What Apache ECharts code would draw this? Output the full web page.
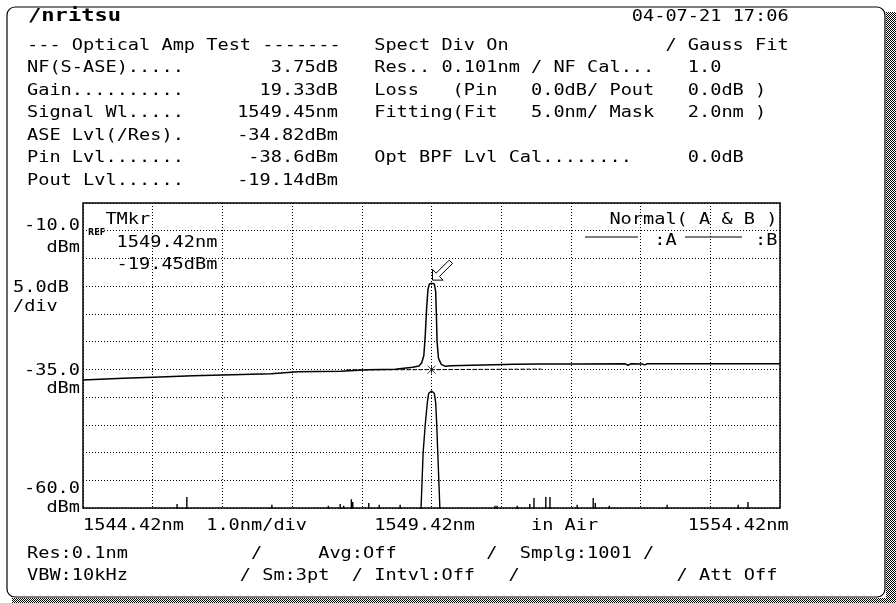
<!DOCTYPE html>
<html>
<head>
<meta charset="utf-8">
<script src="https://cdn.jsdelivr.net/npm/echarts@6.0.0/dist/echarts.min.js"></script>
<style>
  html, body { margin: 0; padding: 0; background: #fff; }
  #chart { width: 896px; height: 603px; }
</style>
</head>
<body>
<div id="chart"></div>
<script>
// trace A : amplifier output (ASE floor + signal peak)
const ampWl = [1544.42, 1545.0, 1545.42, 1546.0, 1546.42, 1547.12, 1547.14, 1547.5, 1548.12, 1548.14,
  1548.5, 1548.9, 1548.92, 1549.15, 1549.24, 1549.28, 1549.31, 1549.33, 1549.35, 1549.37,
  1549.39, 1549.42, 1549.46, 1549.48, 1549.49, 1549.50, 1549.52, 1549.56, 1549.62, 1549.70,
  1550.0, 1550.33, 1550.6, 1551.0, 1551.5, 1552.2, 1552.24, 1552.28, 1552.45, 1552.48,
  1552.51, 1553.0, 1554.42];
const ampDbm = [-36.9, -36.6, -36.4, -36.15, -36.0, -35.8, -35.55, -35.45, -35.35, -35.1,
  -35.05, -35.0, -34.7, -34.6, -34.4, -33.8, -32.5, -29.0, -24.0, -20.5,
  -19.6, -19.45, -19.6, -21.0, -25.0, -30.0, -33.0, -34.1, -34.45, -34.35,
  -34.25, -34.15, -34.1, -34.05, -34.05, -34.0, -34.25, -34.0, -34.05, -34.2,
  -34.0, -34.0, -34.0];

// trace B : amplifier input
const inPeakWl = [1549.25, 1549.27, 1549.285, 1549.30, 1549.33, 1549.36, 1549.38, 1549.42,
  1549.46, 1549.48, 1549.495, 1549.51, 1549.525, 1549.54, 1549.56];
const inPeakDbm = [-62, -60, -55, -50, -45, -41, -39.3, -38.9,
  -39.3, -41, -45, -50, -55, -60, -62];
const spikeWl = [1545.77, 1545.91, 1547.13, 1547.94, 1548.11, 1548.16, 1548.27, 1548.29, 1548.52,
  1548.67, 1548.97, 1550.33, 1550.36, 1550.65, 1550.83, 1550.89, 1551.06, 1551.12, 1551.51,
  1551.74, 1551.77, 1551.97, 1552.80, 1553.82, 1553.96];
const spikeDbm = [-59.3, -58.0, -59.4, -59.6, -59.3, -59.6, -58.4, -58.9, -59.1,
  -59.4, -59.4, -59.6, -59.6, -59.6, -59.3, -58.2, -58.0, -58.0, -59.4,
  -58.2, -59.1, -59.6, -59.4, -59.4, -58.9];
const FLOOR = -62;

// ASE interpolation (dashed) and its point
const fitWl = [1548.2, 1549.42, 1551.0];
const fitDbm = [-35.1, -35.05, -34.95];
const mkrWl = 1549.42, mkrDbm = -19.45;

// screen text sits on a fixed character grid
const PITCH = 11.2;
const col = c => 4.6 + PITCH * c;
const FONT = '16px "DejaVu Sans Mono"';
const SX = PITCH / 9.63;

function txt(x, y, s, align, font, sx) {
  return {
    type: 'text', x: x, y: y, scaleX: sx || SX, silent: true,
    style: {
      text: s, font: font || FONT, fill: '#000',
      textAlign: align || 'left', align: align || 'left',
      textVerticalAlign: 'middle', verticalAlign: 'middle'
    }
  };
}

const ampData = ampWl.map((w, i) => [w, ampDbm[i]]);
let inData = inPeakWl.map((w, i) => [w, inPeakDbm[i]]);
spikeWl.forEach((w, i) => {
  inData.push([w, FLOOR], [w, spikeDbm[i]], [w, FLOOR]);
});
inData.push([1544.42, FLOOR], [1554.42, FLOOR]);
inData.sort((a, b) => a[0] - b[0]);
const fitData = fitWl.map((w, i) => [w, fitDbm[i]]);

// dithered shadow of the screen frame
const dot = document.createElement('canvas');
dot.width = 2; dot.height = 2;
const dctx = dot.getContext('2d');
dctx.fillStyle = '#fff'; dctx.fillRect(0, 0, 2, 2);
dctx.fillStyle = '#000'; dctx.fillRect(0, 0, 1, 1); dctx.fillRect(1, 1, 1, 1);
const dither = { image: dot, repeat: 'repeat' };

const rows = [46, 68, 91, 113, 136, 158, 181];

const texts = [
  txt(28, 17, '/nritsu', 'left', 'bold 17px "DejaVu Sans Mono"', 1.3),
  txt(col(56), 17, '04-07-21 17:06'),

  txt(col(2), rows[0], '--- Optical Amp Test -------'),
  txt(col(2), rows[1], 'NF(S-ASE).....'), txt(338, rows[1], '3.75dB', 'right'),
  txt(col(2), rows[2], 'Gain..........'), txt(338, rows[2], '19.33dB', 'right'),
  txt(col(2), rows[3], 'Signal Wl.....'), txt(338, rows[3], '1549.45nm', 'right'),
  txt(col(2), rows[4], 'ASE Lvl(/Res).'), txt(338, rows[4], '-34.82dBm', 'right'),
  txt(col(2), rows[5], 'Pin Lvl.......'), txt(338, rows[5], '-38.6dBm', 'right'),
  txt(col(2), rows[6], 'Pout Lvl......'), txt(338, rows[6], '-19.14dBm', 'right'),

  txt(col(33), rows[0], 'Spect Div On'), txt(col(59), rows[0], '/ Gauss Fit'),
  txt(col(33), rows[1], 'Res.. 0.101nm'), txt(col(47), rows[1], '/ NF Cal...'), txt(col(61), rows[1], '1.0'),
  txt(col(33), rows[2], 'Loss'), txt(col(40), rows[2], '(Pin'), txt(col(47), rows[2], '0.0dB/ Pout'),
  txt(col(61), rows[2], '0.0dB )'),
  txt(col(33), rows[3], 'Fitting(Fit'), txt(col(47), rows[3], '5.0nm/ Mask'), txt(col(61), rows[3], '2.0nm )'),
  txt(col(33), rows[5], 'Opt BPF Lvl Cal........'), txt(col(61), rows[5], '0.0dB'),

  // level scale
  txt(80, 226, '-10.0', 'right'), txt(80, 248, 'dBm', 'right'),
  txt(13, 288, '5.0dB'), txt(13, 307, '/div'),
  txt(80, 371, '-35.0', 'right'), txt(80, 389, 'dBm', 'right'),
  txt(80, 489, '-60.0', 'right'), txt(80, 508, 'dBm', 'right'),

  // marker readout
  txt(88, 233, 'REF', 'left', 'bold 8px "DejaVu Sans"', 1),
  txt(col(9), 220, 'TMkr'),
  txt(col(10), 243, '1549.42nm'),
  txt(col(10), 265, '-19.45dBm'),

  // trace legend
  txt(col(54), 220, 'Normal( A & B )'),
  txt(col(58), 241, ':A'), txt(col(67), 241, ':B'),

  // wavelength scale
  txt(col(7), 526, '1544.42nm'), txt(col(18), 526, '1.0nm/div'), txt(col(33), 526, '1549.42nm'),
  txt(col(47), 526, 'in Air'), txt(col(61), 526, '1554.42nm'),

  // settings
  txt(col(2), 554, 'Res:0.1nm'), txt(col(22), 554, '/'), txt(col(28), 554, 'Avg:Off'),
  txt(col(43), 554, '/'), txt(col(46), 554, 'Smplg:1001'), txt(col(57), 554, '/'),
  txt(col(2), 576, 'VBW:10kHz'), txt(col(21), 576, '/ Sm:3pt'), txt(col(31), 576, '/ Intvl:Off'),
  txt(col(45), 576, '/'), txt(col(60), 576, '/ Att Off')
];

const shapes = [
  { type: 'rect', silent: true, shape: { x: 886, y: 12, width: 10, height: 591 }, style: { fill: dither } },
  { type: 'rect', silent: true, shape: { x: 12, y: 598, width: 884, height: 5 }, style: { fill: dither } },
  { type: 'rect', silent: true, shape: { x: 7, y: 7, width: 878, height: 590, r: 8 },
    style: { fill: 'none', stroke: '#000', lineWidth: 1.2 } },
  { type: 'line', silent: true, shape: { x1: 585, y1: 237, x2: 638, y2: 237 }, style: { stroke: '#000', lineWidth: 1 } },
  { type: 'line', silent: true, shape: { x1: 685, y1: 237, x2: 742, y2: 237 }, style: { stroke: '#000', lineWidth: 1 } }
];

const dotted = { color: '#000', width: 1, type: [1, 2] };

const chart = echarts.init(document.getElementById('chart'), null, { renderer: 'canvas' });
chart.setOption({
  animation: false,
  backgroundColor: '#fff',
  grid: { left: 83, top: 203, width: 697, height: 305, show: true, borderColor: '#000', borderWidth: 1.5 },
  xAxis: {
    type: 'value', min: 1544.42, max: 1554.42, interval: 1,
    axisLabel: { show: false }, axisTick: { show: false }, axisLine: { show: false },
    splitLine: { show: true, lineStyle: dotted }
  },
  yAxis: {
    type: 'value', min: -60, max: -5, interval: 5,
    axisLabel: { show: false }, axisTick: { show: false }, axisLine: { show: false },
    splitLine: { show: true, lineStyle: dotted }
  },
  series: [
    {
      name: 'A', type: 'line', data: ampData, symbol: 'none', clip: true,
      lineStyle: { color: '#000', width: 1.5 },
      markPoint: {
        symbol: 'path://M0,20L0,11L3.1,14.1L14.1,3.1L16.9,5.9L5.9,16.9L9,20Z',
        symbolSize: 20, symbolOffset: [11, -13], symbolKeepAspect: true,
        itemStyle: { color: '#fff', borderColor: '#000', borderWidth: 1 },
        label: { show: false },
        data: [{ coord: [mkrWl, mkrDbm] }]
      }
    },
    {
      name: 'B', type: 'line', data: inData, symbol: 'none', clip: true,
      lineStyle: { color: '#000', width: 1.4 }
    },
    {
      name: 'fit', type: 'line', data: fitData, symbol: 'none',
      lineStyle: { color: '#000', width: 1, type: [4, 2] }
    },
    {
      name: 'aseMark', type: 'scatter', data: [[fitWl[1], fitDbm[1]]],
      symbol: 'path://M0,0L8,8M8,0L0,8M4,0L4,8', symbolSize: 8,
      itemStyle: { color: 'none', borderColor: '#000', borderWidth: 1 }
    }
  ],
  graphic: shapes.concat(texts)
});
</script>
</body>
</html>
